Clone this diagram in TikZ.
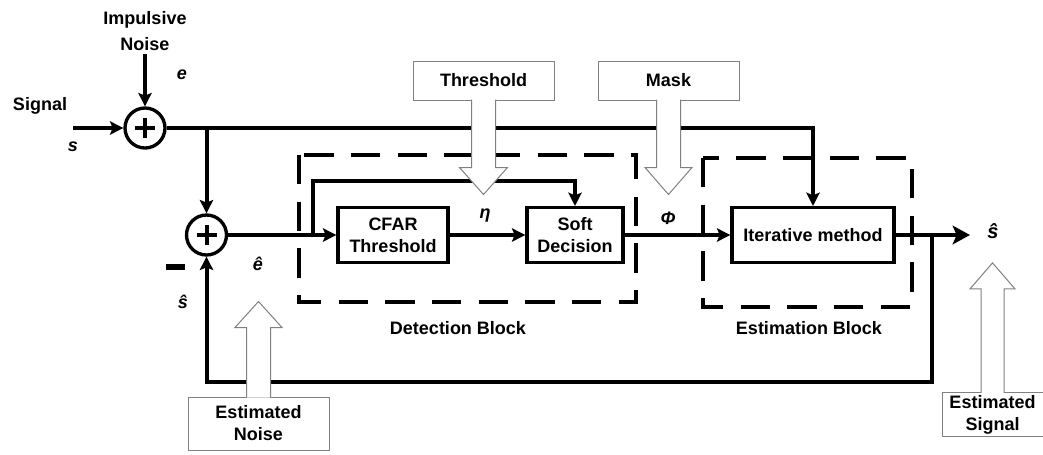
\documentclass[tikz,border=0pt]{standalone}
\usepackage{fontspec}
\setmainfont{Liberation Sans}
\usetikzlibrary{arrows.meta,calc}

\begin{document}
\begin{tikzpicture}[x=0.75pt,y=-0.75pt,
    font=\bfseries\fontsize{13.5}{16.5}\selectfont,
    line width=3pt,
    arr/.style={-{Stealth[length=10pt,width=10pt,inset=2pt]}},
    bigarr/.style={-{Stealth[length=13pt,width=14pt,inset=3pt]}},
    blk/.style={draw,rectangle,line width=2.5pt,align=center,minimum height=41pt,inner sep=2pt},
    sum/.style={circle,draw,line width=2.5pt,minimum size=30pt,inner sep=0pt,
      path picture={\draw[line width=3pt]
        ([xshift=-7.5pt]path picture bounding box.center) -- ([xshift=7.5pt]path picture bounding box.center)
        ([yshift=-7.5pt]path picture bounding box.center) -- ([yshift=7.5pt]path picture bounding box.center);}},
    dashblk/.style={line width=3pt,dash pattern=on 22pt off 13pt},
    callbox/.style={draw=gray,fill=white,line width=0.75pt,align=center,inner sep=2pt},
    callarrow/.style={draw=gray,fill=white,line width=0.75pt}]

  \useasboundingbox (0,0) rectangle (1043,454);

  % adders
  \node[sum] (s1) at (145,128) {};
  \node[sum] (s2) at (206.5,235) {};

  % processing blocks
  \node[blk,minimum width=82.5pt] (cfar) at (393,235) {CFAR\\Threshold};
  \node[blk,minimum width=72pt] (soft) at (575,235) {Soft\\Decision};
  \node[blk,minimum width=121.5pt] (iter) at (813,235) {Iterative method};

  % dashed groups
  \draw[dashblk] (299,155) rectangle (636,302);
  \draw[dashblk] (703,158) rectangle (912,307);
  \node (detlbl) at (458,328) {Detection Block};
  \node (estlbl) at (809,328) {Estimation Block};

  % labels
  \begin{scope}[every node/.style={inner sep=1pt}]
    \node[align=center,text depth=0pt] (imp) at (145,31) {Impulsive\\[3pt]Noise};
    \node (sigtxt) at (40,106) {Signal};
    \node[font=\bfseries\itshape\fontsize{13.5}{16.5}\selectfont] (elbl) at (182,75) {e};
    \node[font=\bfseries\itshape\fontsize{13.5}{16.5}\selectfont] (slbl) at (73,147) {s};
    \node[font=\bfseries\itshape\fontsize{13.5}{16.5}\selectfont] (etalbl) at (485,216) {η};
    \node[font=\bfseries\itshape\fontsize{13.5}{16.5}\selectfont] (philbl) at (668,218) {Φ};
    \node[font=\bfseries\itshape\fontsize{13.5}{16.5}\selectfont] (ehat) at (258,264) {ê};
    \node[font=\bfseries\itshape\fontsize{13.5}{16.5}\selectfont] (shatl) at (183,302) {ŝ};
    \node[font=\bfseries\itshape\fontsize{15}{18}\selectfont] (shatr) at (993,231) {ŝ};
    \node[fill,minimum width=14pt,minimum height=4.5pt,inner sep=0pt] (minus) at (175.5,267) {};
  \end{scope}

  \coordinate (in) at (73,128);
  \coordinate (b1) at (s2 |- s1);
  \coordinate (b2) at (313,235);
  \coordinate (b3) at (932,235);
  \coordinate (out) at (970,235);

  % signal paths
  \draw[arr] (in) -- (s1);
  \draw[arr] (imp) -- (s1);
  \draw[arr] (s1) -| (iter);
  \draw[arr] (b1) -- (s2);
  \draw[arr] (s2) -- (cfar);
  \draw[arr] (b2) -- ++(0,-54) -| (soft);
  \draw[arr] (cfar) -- (soft);
  \draw[arr] (soft) -- (iter);
  \draw[bigarr] (iter) -- (out);
  \draw[arr] (b3) -- ++(0,147) -| (s2);

  % callouts
  \node[callbox,minimum width=105.75pt,minimum height=29.25pt] (thr) at (483.5,80.5) {Threshold};
  \draw[callarrow] ($(thr.south)+(-12,-1)$) -- ++(0,68) -- ++(-12,0) -- ++(24,27) -- ++(24,-27) -- ++(-12,0) -- ++(0,-68);
  \node[callbox,minimum width=105.75pt,minimum height=29.25pt] (mask) at (668.5,80.5) {Mask};
  \draw[callarrow] ($(mask.south)+(-12,-1)$) -- ++(0,68) -- ++(-11.5,0) -- ++(23.5,27) -- ++(23.5,-27) -- ++(-11.5,0) -- ++(0,-68);
  \node[callbox,minimum width=105.75pt,minimum height=39.75pt] (noise) at (258.5,423.5) {Estimated\\Noise};
  \draw[callarrow] ($(noise.north)+(-12,1)$) -- ++(0,-70) -- ++(-11.5,0) -- ++(23.5,-26) -- ++(23.5,26) -- ++(-11.5,0) -- ++(0,70);
  \node[callbox,minimum width=75.75pt,minimum height=32.25pt] (sig) at (992.5,414.5) {Estimated\\Signal};
  \draw[callarrow] ($(sig.north)+(-11.5,1)$) -- ++(0,-104) -- ++(-11,0) -- ++(22.5,-26) -- ++(22.5,26) -- ++(-11,0) -- ++(0,104);

\end{tikzpicture}
\end{document}
